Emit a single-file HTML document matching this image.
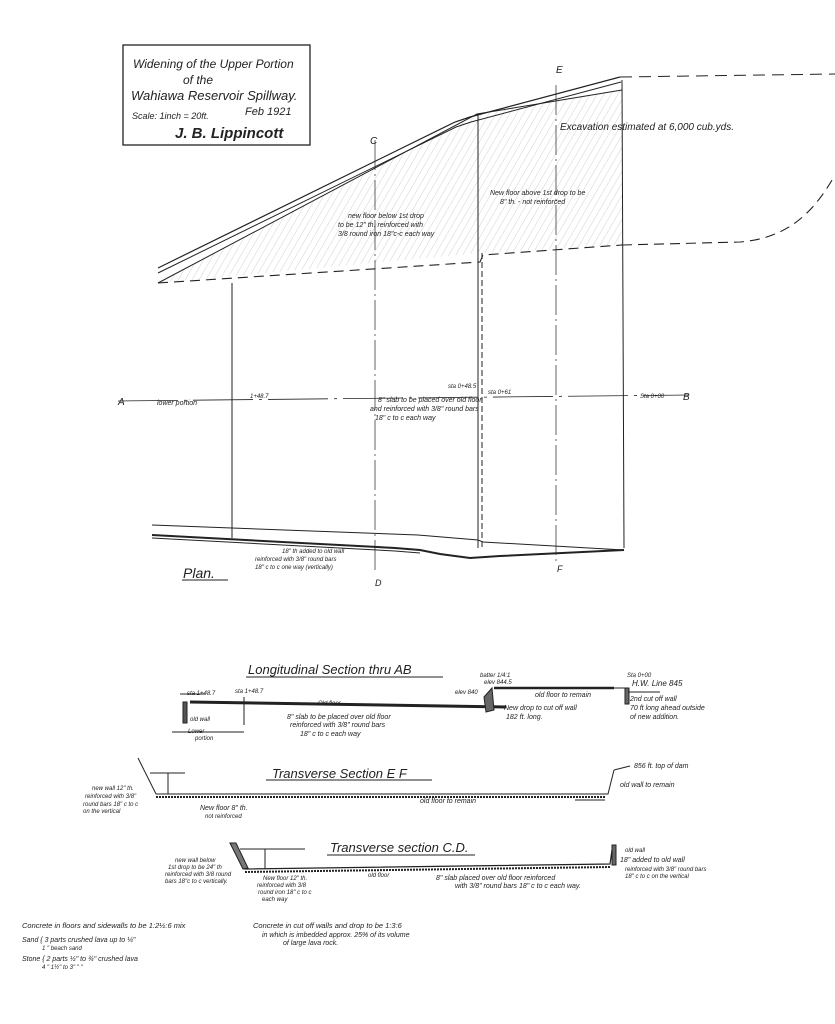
<!DOCTYPE html>
<html><head><meta charset="utf-8"><style>
html,body{margin:0;padding:0;background:#fff;}
svg{display:block;}
text{font-family:"Liberation Sans",sans-serif;font-style:italic;fill:#222;}
</style></head><body>
<svg width="835" height="1024" viewBox="0 0 835 1024" xmlns="http://www.w3.org/2000/svg">
<defs>
<pattern id="h" width="6" height="6" patternUnits="userSpaceOnUse" patternTransform="rotate(30)">
<line x1="0" y1="0" x2="0" y2="6" stroke="#bbb" stroke-width="0.7"/>
</pattern>
</defs>
<g stroke="#222" fill="none" stroke-width="1">
<!-- title box -->
<rect x="123" y="45" width="187" height="100" stroke-width="1.3"/>
<!-- hatched region -->
<polygon points="158,283 480,113 622,90 622,245 480,253" fill="url(#h)" stroke="none"/>
<!-- top double line -->
<polyline points="158,268 455,122 470,117 620,77" stroke-width="1.2"/>
<polyline points="158,273 456,127 471,122 621,82"/>
<polyline points="158,283 477,114 622,90"/>
<!-- dashed bottom of excavation -->
<polyline points="158,283 480,262 483,255 622,245" stroke-dasharray="10,6" stroke-width="1.1"/>
<path d="M622,245 L740,242 C790,238 815,210 835,175" stroke-dasharray="10,6" stroke-width="1.1"/>
<path d="M620,77 L835,74" stroke-dasharray="12,7"/>
<!-- verticals -->
<line x1="478" y1="114" x2="478" y2="548"/>
<line x1="482" y1="253" x2="482" y2="548" stroke-dasharray="6,3"/>
<line x1="622" y1="80" x2="624" y2="548"/>
<line x1="232" y1="283" x2="232" y2="538"/>
<line x1="375" y1="140" x2="375" y2="570" stroke-dasharray="30,4,2,4" stroke-width="0.7"/>
<line x1="556" y1="85" x2="556" y2="565" stroke-dasharray="30,4,2,4" stroke-width="0.7"/>
<!-- A-B line -->
<line x1="118" y1="401" x2="688" y2="395" stroke-dasharray="60,6,3,6" stroke-width="0.8"/>
<!-- bottom wall -->
<polyline points="152,525 418,535 478,540 483,542 624,550"/>
<polyline points="152,535 395,548 420,550 440,554 470,558 500,556 624,550" stroke-width="2"/>
<polyline points="152,538 395,551 420,553"/>
<!-- Plan underline -->
<line x1="182" y1="580" x2="228" y2="580"/>

<!-- Longitudinal section -->
<line x1="246" y1="677" x2="443" y2="677"/>
<line x1="180" y1="694" x2="205" y2="694"/>
<polyline points="190,702 506,707" stroke-width="3"/>
<rect x="183" y="702" width="4" height="21" fill="#555"/>
<line x1="244" y1="697" x2="244" y2="725"/>
<line x1="172" y1="732" x2="244" y2="732"/>
<polygon points="484,697 492,688 494,710 486,712" fill="#666"/>
<line x1="494" y1="688" x2="614" y2="688" stroke-width="2.5"/>
<rect x="625" y="688" width="4" height="16" fill="#666"/>
<line x1="614" y1="688" x2="628" y2="688"/>
<line x1="628" y1="692" x2="660" y2="692"/>

<!-- Transverse EF -->
<line x1="266" y1="780" x2="432" y2="780"/>
<polyline points="138,758 156,794 608,794 612,778 614,770"/>
<line x1="156" y1="797" x2="606" y2="797" stroke-width="2" stroke-dasharray="2,1"/>
<line x1="150" y1="773" x2="185" y2="773"/>
<line x1="168" y1="773" x2="168" y2="794"/>
<line x1="614" y1="770" x2="630" y2="766"/>
<line x1="575" y1="800" x2="605" y2="800"/>

<!-- Transverse CD -->
<line x1="327" y1="855" x2="475" y2="855"/>
<polyline points="230,843 245,869 610,864 612,850" stroke-width="1.2"/>
<line x1="245" y1="872" x2="610" y2="867" stroke-width="2" stroke-dasharray="2,1"/>
<polygon points="230,843 236,843 248,868 243,869" fill="#777"/>
<rect x="612" y="845" width="4" height="20" fill="#666"/>
<line x1="240" y1="849" x2="305" y2="849"/>
<line x1="265" y1="849" x2="265" y2="869"/>
</g>

<!-- texts -->
<g font-size="11">
<text x="133" y="68" font-size="12">Widening of the Upper Portion</text>
<text x="183" y="84" font-size="12">of the</text>
<text x="131" y="100" font-size="13">Wahiawa Reservoir Spillway.</text>
<text x="132" y="119" font-size="9">Scale: 1inch = 20ft.</text>
<text x="245" y="115" font-size="11">Feb 1921</text>
<text x="175" y="138" font-size="15" font-weight="bold">J. B. Lippincott</text>
<text x="556" y="73" font-size="10">E</text>
<text x="370" y="144" font-size="10">C</text>
<text x="560" y="130" font-size="10">Excavation estimated at 6,000 cub.yds.</text>
<text x="490" y="195" font-size="7">New floor above 1st drop to be</text>
<text x="500" y="204" font-size="7">8" th. - not reinforced</text>
<text x="348" y="218" font-size="7">new floor below 1st drop</text>
<text x="338" y="227" font-size="7">to be 12" th. reinforced with</text>
<text x="338" y="236" font-size="7">3/8 round iron 18"c-c each way</text>
<text x="118" y="405" font-size="10">A</text>
<text x="683" y="400" font-size="10">B</text>
<text x="157" y="405" font-size="7">lower portion</text>
<text x="250" y="398" font-size="6">1+48.7</text>
<text x="448" y="388" font-size="6">sta 0+48.5</text>
<text x="488" y="394" font-size="6">sta 0+61</text>
<text x="640" y="398" font-size="6">Sta 0+00</text>
<text x="378" y="402" font-size="7">8" slab to be placed over old floor</text>
<text x="370" y="411" font-size="7">and reinforced with 3/8" round bars</text>
<text x="375" y="420" font-size="7">18" c to c each way</text>
<text x="282" y="553" font-size="6">18" th added to old wall</text>
<text x="255" y="561" font-size="6">reinforced with 3/8" round bars</text>
<text x="255" y="569" font-size="6">18" c to c one way (vertically)</text>
<text x="375" y="586" font-size="9">D</text>
<text x="557" y="572" font-size="9">F</text>
<text x="183" y="578" font-size="14">Plan.</text>

<text x="248" y="674" font-size="13">Longitudinal Section thru AB</text>
<text x="187" y="695" font-size="6">sta 1+48.7</text>
<text x="235" y="693" font-size="6">sta 1+48.7</text>
<text x="318" y="705" font-size="6">Old floor</text>
<text x="287" y="719" font-size="7">8" slab to be placed over old floor</text>
<text x="290" y="727" font-size="7">reinforced with 3/8" round bars</text>
<text x="300" y="736" font-size="7">18" c to c each way</text>
<text x="190" y="721" font-size="6">old wall</text>
<text x="188" y="733" font-size="6">Lower</text>
<text x="195" y="740" font-size="6">portion</text>
<text x="455" y="694" font-size="6">elev 840</text>
<text x="480" y="677" font-size="6">batter 1/4:1</text>
<text x="484" y="684" font-size="6">elev 844.5</text>
<text x="535" y="697" font-size="7">old floor to remain</text>
<text x="504" y="710" font-size="7">New drop to cut off wall</text>
<text x="506" y="719" font-size="7">182 ft. long.</text>
<text x="627" y="677" font-size="6">Sta 0+00</text>
<text x="632" y="686" font-size="8">H.W. Line 845</text>
<text x="630" y="701" font-size="7">2nd cut off wall</text>
<text x="630" y="710" font-size="7">70 ft long ahead outside</text>
<text x="630" y="719" font-size="7">of new addition.</text>

<text x="272" y="778" font-size="13">Transverse Section E F</text>
<text x="92" y="790" font-size="6">new wall 12" th.</text>
<text x="85" y="798" font-size="6">reinforced with 3/8"</text>
<text x="83" y="806" font-size="6">round bars 18" c to c</text>
<text x="83" y="813" font-size="6">on the vertical</text>
<text x="200" y="810" font-size="7">New floor 8" th.</text>
<text x="205" y="818" font-size="6">not reinforced</text>
<text x="420" y="803" font-size="7">old floor to remain</text>
<text x="634" y="768" font-size="7">856 ft. top of dam</text>
<text x="620" y="787" font-size="7">old wall to remain</text>

<text x="330" y="852" font-size="13">Transverse section C.D.</text>
<text x="175" y="862" font-size="6">new wall below</text>
<text x="168" y="869" font-size="6">1st drop to be 24" th</text>
<text x="165" y="876" font-size="6">reinforced with 3/8 round</text>
<text x="165" y="883" font-size="6">bars 18"c to c vertically.</text>
<text x="263" y="880" font-size="6">New floor 12" th.</text>
<text x="257" y="887" font-size="6">reinforced with 3/8</text>
<text x="258" y="894" font-size="6">round iron 18" c to c</text>
<text x="262" y="901" font-size="6">each way</text>
<text x="368" y="877" font-size="6">old floor</text>
<text x="436" y="880" font-size="7">8" slab placed over old floor reinforced</text>
<text x="455" y="888" font-size="7">with 3/8" round bars 18" c to c each way.</text>
<text x="625" y="852" font-size="6">old wall</text>
<text x="620" y="862" font-size="7">18" added to old wall</text>
<text x="625" y="871" font-size="6">reinforced with 3/8" round bars</text>
<text x="625" y="878" font-size="6">18" c to c on the vertical</text>

<text x="22" y="928" font-size="7.5">Concrete in floors and sidewalls to be 1:2½:6 mix</text>
<text x="22" y="942" font-size="7">Sand { 3 parts crushed lava up to ¼"</text>
<text x="42" y="950" font-size="6">1 " beach sand</text>
<text x="22" y="961" font-size="7">Stone { 2 parts ½" to ¾" crushed lava</text>
<text x="42" y="969" font-size="6">4 " 1½" to 3" " "</text>
<text x="253" y="928" font-size="7.5">Concrete in cut off walls and drop to be 1:3:6</text>
<text x="262" y="937" font-size="7">in which is imbedded approx. 25% of its volume</text>
<text x="283" y="945" font-size="7">of large lava rock.</text>
</g>
</svg>
</body></html>
